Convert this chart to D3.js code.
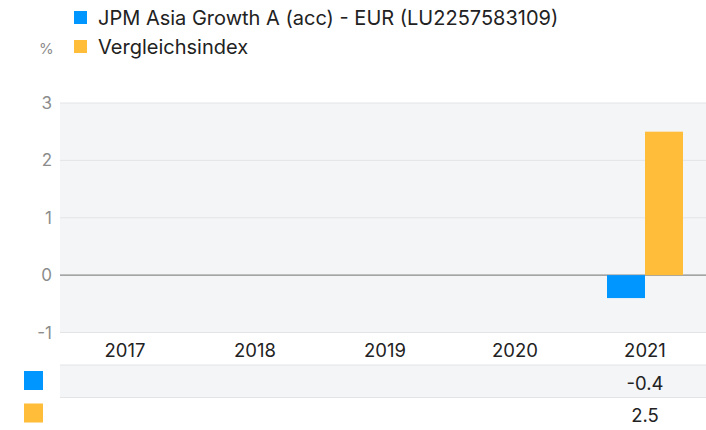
<!DOCTYPE html>
<html>
<head>
<meta charset="utf-8">
<script src="https://cdn.jsdelivr.net/npm/d3@7"></script>
<style>
  body { margin: 0; background: #fff; }
  svg { display: block; font-family: Inter, "Noto Sans", sans-serif; }
</style>
</head>
<body>
<svg id="chart" width="706" height="430"></svg>
<script>
var years = ["2017", "2018", "2019", "2020", "2021"],
    seriesNames = ["JPM Asia Growth A (acc) - EUR (LU2257583109)", "Vergleichsindex"],
    fundValues = [null, null, null, null, -0.4],
    indexValues = [null, null, null, null, 2.5],
    yTicks = [-1, 0, 1, 2, 3],
    colors = ["#0096ff", "#ffbd3a"];

var svg = d3.select("#chart"),
    plotLeft = 60,
    bandW = 130,
    plotTop = 103,
    plotBottom = 332.5,
    rowH = 32.5;

var x = d3.scaleBand()
    .domain(years)
    .range([plotLeft, plotLeft + bandW * years.length]);

var x1 = d3.scaleBand()
    .domain([0, 1])
    .range([0, 76]);

var y = d3.scaleLinear()
    .domain([-1, 3])
    .range([plotBottom, plotTop]);

function fmt(v) {
    return v.toFixed(1);
}

// plot background
svg.append("rect")
    .attr("x", plotLeft).attr("y", plotTop)
    .attr("width", 706 - plotLeft).attr("height", plotBottom - plotTop)
    .attr("fill", "#f4f5f7");

// gridlines
svg.selectAll(".grid")
    .data(yTicks)
    .enter().append("line")
    .attr("x1", plotLeft).attr("x2", 706)
    .attr("y1", function(d) { return y(d); })
    .attr("y2", function(d) { return y(d); })
    .attr("stroke", function(d) { return d === 0 ? "#8a8a8a" : "#e3e4e6"; })
    .attr("stroke-width", function(d) { return d === 0 ? 1.3 : 1; });

// y axis labels
svg.selectAll(".ytick")
    .data(yTicks)
    .enter().append("text")
    .attr("x", 52)
    .attr("y", function(d) { return y(d) + 6; })
    .attr("text-anchor", "end")
    .attr("font-size", "17px")
    .attr("fill", "#8c8c8c")
    .text(function(d) { return d; });

svg.append("text")
    .attr("x", 39).attr("y", 54)
    .attr("font-size", "15px")
    .attr("fill", "#8c8c8c")
    .text("%");

// bars
var series = [fundValues, indexValues];
series.forEach(function(vals, s) {
    svg.selectAll(".bar" + s)
        .data(vals.map(function(v, i) { return { year: years[i], v: v }; })
            .filter(function(d) { return d.v !== null; }))
        .enter().append("rect")
        .attr("x", function(d) { return x(d.year) + (bandW - 76) / 2 + x1(s); })
        .attr("width", x1.bandwidth())
        .attr("y", function(d) { return y(Math.max(0, d.v)); })
        .attr("height", function(d) { return Math.abs(y(d.v) - y(0)); })
        .attr("fill", colors[s]);
});

// legend
seriesNames.forEach(function(name, s) {
    var ly = 11 + s * 29;
    svg.append("rect")
        .attr("x", 74).attr("y", ly)
        .attr("width", 13).attr("height", 13)
        .attr("fill", colors[s]);
    svg.append("text")
        .attr("x", 98).attr("y", ly + 13.5)
        .attr("font-size", "20px")
        .attr("fill", "#222")
        .text(name);
});

// table
var rowTop = plotBottom;
svg.append("rect")
    .attr("x", plotLeft).attr("y", rowTop + rowH)
    .attr("width", 706 - plotLeft).attr("height", rowH)
    .attr("fill", "#f4f5f7");
[1, 2].forEach(function(r) {
    svg.append("line")
        .attr("x1", plotLeft).attr("x2", 706)
        .attr("y1", rowTop + r * rowH).attr("y2", rowTop + r * rowH)
        .attr("stroke", "#e3e4e6");
});

svg.selectAll(".year")
    .data(years)
    .enter().append("text")
    .attr("x", function(d) { return x(d) + bandW / 2; })
    .attr("y", rowTop + 24.5)
    .attr("text-anchor", "middle")
    .attr("font-size", "18.5px")
    .attr("fill", "#222")
    .text(function(d) { return d; });

series.forEach(function(vals, s) {
    var ry = rowTop + (s + 1) * rowH;
    svg.append("rect")
        .attr("x", 24).attr("y", ry + 6)
        .attr("width", 19).attr("height", 19)
        .attr("fill", colors[s]);
    svg.selectAll(".val" + s)
        .data(vals.map(function(v, i) { return { year: years[i], v: v }; })
            .filter(function(d) { return d.v !== null; }))
        .enter().append("text")
        .attr("x", function(d) { return x(d.year) + bandW / 2; })
        .attr("y", ry + 24.5)
        .attr("text-anchor", "middle")
        .attr("font-size", "18.5px")
        .attr("fill", "#222")
        .text(function(d) { return fmt(d.v); });
});
</script>
</body>
</html>
